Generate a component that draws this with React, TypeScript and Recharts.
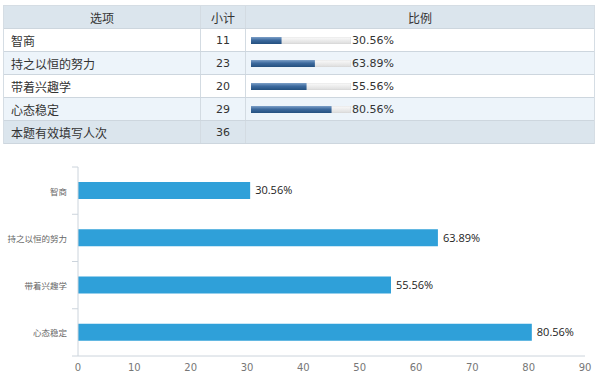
import React from "react";
import { BarChart, Bar, XAxis, YAxis, LabelList } from "recharts";

const OPTIONS = ["智商", "持之以恒的努力", "带着兴趣学", "心态稳定"];
const COUNTS = [11, 23, 20, 29];
const PERCENTS = [30.56, 63.89, 55.56, 80.56];
const TOTAL_LABEL = "本题有效填写人次";
const TOTAL = 36;
const HEADERS = ["选项", "小计", "比例"];
const X_TICKS = [0, 10, 20, 30, 40, 50, 60, 70, 80, 90];

const CHART_W = 600;
const CHART_H = 238;
const MARGIN = { top: 17, right: 15, bottom: 0, left: 0 };
const X_AXIS_H = 32;
const BAND = (CHART_H - MARGIN.top - MARGIN.bottom - X_AXIS_H) / OPTIONS.length;

const AXIS_COLOR = "#ccd4dc";
const CJK = "'Noto Sans CJK SC', 'Noto Sans', sans-serif";
const LATIN = "'DejaVu Sans', Verdana, sans-serif";

const COL1 = 197;
const COL2 = 45;
const COL3 = 350;
const ROW_H = 23;

function CatTick(props: any) {
  const { x, y, payload, index } = props;
  return (
    <g>
      <text
        x={x - 11}
        y={y}
        textAnchor="end"
        dominantBaseline="central"
        fill="#666"
        fontSize={8.5}
        fontFamily={CJK}
      >
        {payload.value}
      </text>
      <line x1={x - 6} x2={x} y1={y - BAND / 2} y2={y - BAND / 2} stroke={AXIS_COLOR} />
      {index === OPTIONS.length - 1 && (
        <line x1={x - 6} x2={x} y1={y + BAND / 2} y2={y + BAND / 2} stroke={AXIS_COLOR} />
      )}
    </g>
  );
}

function MiniBar({ value }: { value: number }) {
  const id = `mini${Math.round(value * 100)}`;
  return (
    <BarChart
      width={100}
      height={7}
      layout="vertical"
      data={[{ name: "v", value }]}
      margin={{ top: 0, right: 0, bottom: 0, left: 0 }}
      barCategoryGap={0}
    >
      <defs>
        <linearGradient id={`${id}f`} x1="0" y1="0" x2="0" y2="1">
          <stop offset="0%" stopColor="#7da0c8" />
          <stop offset="45%" stopColor="#3d6a9e" />
          <stop offset="100%" stopColor="#24507f" />
        </linearGradient>
        <linearGradient id={`${id}t`} x1="0" y1="0" x2="0" y2="1">
          <stop offset="0%" stopColor="#fbfbfb" />
          <stop offset="100%" stopColor="#dcdcdc" />
        </linearGradient>
      </defs>
      <XAxis type="number" domain={[0, 100]} hide />
      <YAxis type="category" dataKey="name" hide />
      <Bar
        dataKey="value"
        fill={`url(#${id}f)`}
        background={{ fill: `url(#${id}t)`, stroke: "#cfcfcf", strokeWidth: 0.5 }}
        isAnimationActive={false}
      />
    </BarChart>
  );
}

const rowBase: React.CSSProperties = {
  display: "flex",
  height: ROW_H,
  boxSizing: "border-box",
  borderBottom: "1px solid #cdd6de",
};

function cell(width: number, extra: React.CSSProperties = {}): React.CSSProperties {
  return {
    width,
    height: "100%",
    boxSizing: "border-box",
    borderRight: "1px solid #d3dbe2",
    display: "flex",
    alignItems: "center",
    fontSize: 12,
    color: "#333",
    ...extra,
  };
}

function Table() {
  return (
    <div
      style={{
        position: "absolute",
        left: 3,
        top: 5,
        width: COL1 + COL2 + COL3,
        border: "1px solid #d5dde4",
        borderBottom: "none",
        boxSizing: "border-box",
      }}
    >
      <div style={{ ...rowBase, background: "#dbe5ed" }}>
        <div style={cell(COL1, { justifyContent: "center", fontFamily: CJK })}>{HEADERS[0]}</div>
        <div style={cell(COL2, { justifyContent: "center", fontFamily: CJK })}>{HEADERS[1]}</div>
        <div style={cell(COL3 - 2, { justifyContent: "center", fontFamily: CJK, borderRight: "none" })}>
          {HEADERS[2]}
        </div>
      </div>
      {OPTIONS.map((name, i) => (
        <div key={name} style={{ ...rowBase, background: i % 2 === 0 ? "#ffffff" : "#edf4fa" }}>
          <div style={cell(COL1, { paddingLeft: 7, fontFamily: CJK })}>{name}</div>
          <div style={cell(COL2, { justifyContent: "center", fontFamily: LATIN, fontSize: 11 })}>
            {COUNTS[i]}
          </div>
          <div style={cell(COL3 - 2, { paddingLeft: 5, borderRight: "none" })}>
            <MiniBar value={PERCENTS[i]} />
            <span style={{ fontFamily: LATIN, fontSize: 11, marginLeft: 1 }}>
              {PERCENTS[i].toFixed(2)}%
            </span>
          </div>
        </div>
      ))}
      <div style={{ ...rowBase, background: "#dbe5ed" }}>
        <div style={cell(COL1, { paddingLeft: 7, fontFamily: CJK })}>{TOTAL_LABEL}</div>
        <div style={cell(COL2, { justifyContent: "center", fontFamily: LATIN, fontSize: 11 })}>{TOTAL}</div>
        <div style={cell(COL3 - 2, { borderRight: "none" })} />
      </div>
    </div>
  );
}

export default function App() {
  const data = OPTIONS.map((name, i) => ({ name, pct: PERCENTS[i] }));
  return (
    <div
      style={{
        position: "absolute",
        left: 0,
        top: 0,
        width: 600,
        height: 388,
        background: "#fff",
        overflow: "hidden",
      }}
    >
      <Table />
      <div style={{ position: "absolute", left: 0, top: 150 }}>
        <BarChart width={CHART_W} height={CHART_H} layout="vertical" data={data} margin={MARGIN}>
          <XAxis
            type="number"
            domain={[0, 90]}
            ticks={X_TICKS}
            interval={0}
            height={X_AXIS_H}
            tickLine={false}
            axisLine={{ stroke: AXIS_COLOR }}
            tick={{ fill: "#777", fontSize: 10, fontFamily: LATIN }}
          />
          <YAxis
            type="category"
            dataKey="name"
            width={78}
            interval={0}
            tickLine={false}
            tickSize={0}
            tickMargin={0}
            axisLine={{ stroke: AXIS_COLOR }}
            tick={<CatTick />}
          />
          <Bar dataKey="pct" fill="#2fa0d9" barSize={17} isAnimationActive={false}>
            <LabelList
              dataKey="pct"
              position="right"
              offset={5}
              formatter={(v: any) => `${Number(v).toFixed(2)}%`}
              style={{ fill: "#222", fontSize: 11, fontFamily: "'Open Sans', sans-serif" }}
            />
          </Bar>
        </BarChart>
      </div>
    </div>
  );
}
